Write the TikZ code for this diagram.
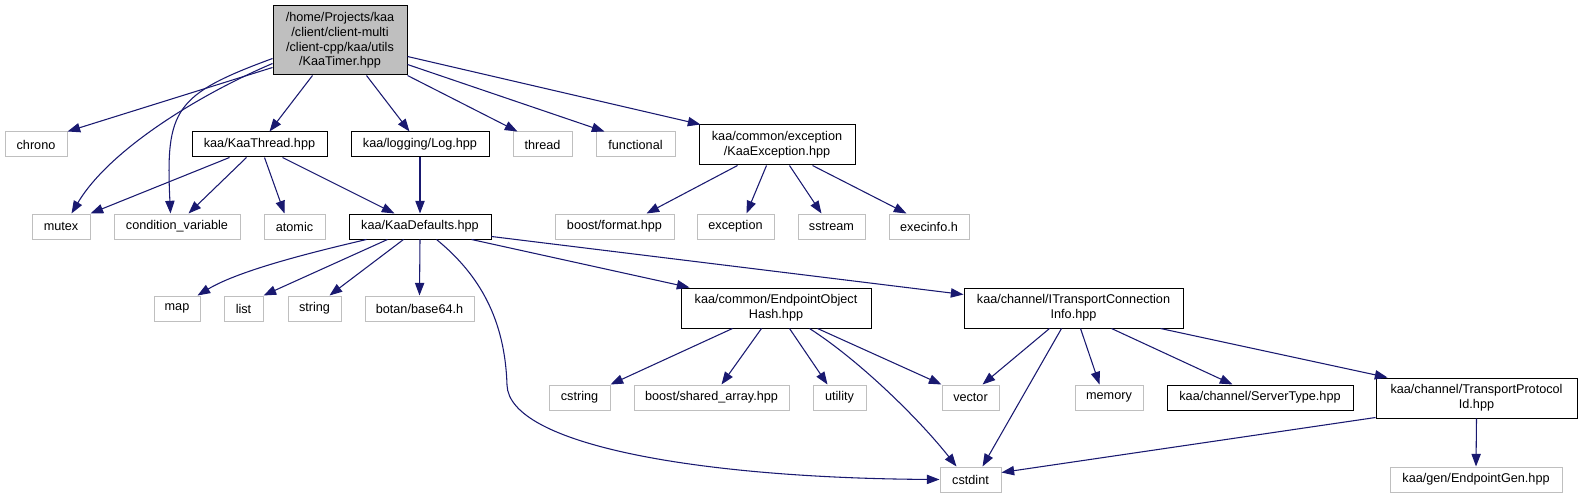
\documentclass[tikz,border=0pt]{standalone}
\usepackage{fontspec}
\setmainfont{Liberation Sans}
\usetikzlibrary{arrows.meta,calc}
\definecolor{edgeblue}{HTML}{191970}
\definecolor{boxgray}{HTML}{BFBFBF}
\begin{document}
\begin{tikzpicture}[x=0.75pt,y=-0.75pt,
  every node/.style={font=\fontsize{9.5pt}{11pt}\selectfont, inner sep=0pt, align=center, fill=white},
  wh/.style 2 args={minimum width=#1*0.75pt, minimum height=#2*0.75pt},
  extnode/.style={draw=boxgray, line width=0.75pt},
  intnode/.style={draw=black, line width=0.75pt},
  rootnode/.style={draw=black, fill=boxgray, line width=0.75pt},
  edge/.style={draw=edgeblue, line width=0.8pt, -{Triangle[length=9.5pt,width=7pt]}, fill=none}
]
\useasboundingbox (0,0) rectangle (1581,499);

% nodes
\node[rootnode, wh={134}{69}] (root) at (340,40.5) {/home/Projects/kaa\\/client/client-multi\\/client-cpp/kaa/utils\\/KaaTimer.hpp};
\node[extnode, wh={62}{25}] (chrono) at (36,144.5) {chrono};
\node[intnode, wh={135}{25}] (kthread) at (259.5,144.5) {kaa/KaaThread.hpp};
\node[intnode, wh={138}{25}] (log) at (420,144.5) {kaa/logging/Log.hpp};
\node[extnode, wh={59}{25}] (thread) at (542.5,144.5) {thread};
\node[extnode, wh={79}{25}] (functional) at (635.5,144.5) {functional};
\node[intnode, wh={156}{40}] (kexc) at (777,145) {kaa/common/exception\\/KaaException.hpp};
\node[extnode, wh={58}{25}] (mutex) at (61,226.5) {mutex};
\node[extnode, wh={126}{25}] (cond) at (177,226.5) {condition\_variable};
\node[extnode, wh={61}{25}] (atomic) at (294.5,226.5) {atomic};
\node[intnode, wh={142}{25}] (kdef) at (420,226.5) {kaa/KaaDefaults.hpp};
\node[extnode, wh={119}{25}] (bformat) at (614.5,226.5) {boost/format.hpp};
\node[extnode, wh={77}{25}] (exception) at (735.5,226.5) {exception};
\node[extnode, wh={67}{25}] (sstream) at (831.5,226.5) {sstream};
\node[extnode, wh={80}{25}] (execinfo) at (929,226.5) {execinfo.h};
\node[extnode, wh={46}{25}] (map) at (177,308.5) {map};
\node[extnode, wh={39}{25}] (list) at (243.5,308.5) {list};
\node[extnode, wh={53}{25}] (string) at (314.5,308.5) {string};
\node[extnode, wh={109}{25}] (botan) at (419.5,308.5) {botan/base64.h};
\node[intnode, wh={190}{40}] (eoh) at (776,308) {kaa/common/EndpointObject\\Hash.hpp};
\node[intnode, wh={219}{40}] (itci) at (1073.5,308) {kaa/channel/ITransportConnection\\Info.hpp};
\node[extnode, wh={61}{25}] (cstring) at (579.5,397.5) {cstring};
\node[extnode, wh={155}{25}] (shared) at (711.5,397.5) {boost/shared\_array.hpp};
\node[extnode, wh={53}{25}] (utility) at (839.5,397.5) {utility};
\node[extnode, wh={57}{25}] (vector) at (970.5,397.5) {vector};
\node[extnode, wh={68}{25}] (memory) at (1109,397.5) {memory};
\node[intnode, wh={186}{25}] (stype) at (1260,397.5) {kaa/channel/ServerType.hpp};
\node[intnode, wh={201}{40}] (tpi) at (1476.5,398) {kaa/channel/TransportProtocol\\Id.hpp};
\node[extnode, wh={61}{25}] (cstdint) at (970.5,479.5) {cstdint};
\node[extnode, wh={172}{25}] (epgen) at (1476,479.5) {kaa/gen/EndpointGen.hpp};

% edges from root
\draw[edge] ($(root.north west)+(0,62)$) -- (chrono.north east);
\draw[edge] ($(root.north west)+(0,58)$) .. controls +(-73,31) and +(38,-64) .. ($(mutex.north west)+(40,0)$);
\draw[edge] ($(root.north west)+(0,53)$) .. controls +(-98,36) and +(-5,-104) .. ($(cond.north west)+(57,0)$);
\draw[edge] ($(root.south west)+(40,0)$) -- ($(kthread.north west)+(78,0)$);
\draw[edge] ($(root.south west)+(94,0)$) -- ($(log.north west)+(59,0)$);
\draw[edge] (root.south east) -- ($(thread.north west)+(5,0)$);
\draw[edge] ($(root.north east)+(0,59)$) -- ($(functional.north west)+(9,0)$);
\draw[edge] ($(root.north east)+(0,51)$) -- ($(kexc.north west)+(2,0)$);

% KaaThread
\draw[edge] ($(kthread.south west)+(38,0)$) -- (mutex.north east);
\draw[edge] ($(kthread.south west)+(55,0)$) -- ($(cond.north west)+(75,0)$);
\draw[edge] ($(kthread.south west)+(73,0)$) -- ($(atomic.north west)+(21,0)$);
\draw[edge] ($(kthread.south west)+(91,0)$) -- ($(kdef.north west)+(46,0)$);

% Log
\draw[edge] (log.south) -- (kdef.north);

% KaaException
\draw[edge] ($(kexc.south west)+(39,0)$) -- ($(bformat.north west)+(92,0)$);
\draw[edge] ($(kexc.south west)+(68,0)$) -- ($(exception.north west)+(50,0)$);
\draw[edge] ($(kexc.south west)+(91,0)$) -- ($(sstream.north west)+(24,0)$);
\draw[edge] ($(kexc.south west)+(114,0)$) -- ($(execinfo.north west)+(18,0)$);

% KaaDefaults
\draw[edge] ($(kdef.south west)+(18,0)$) .. controls +(-47,11) and +(43,-26) .. ($(map.north east)+(-3,0)$);
\draw[edge] ($(kdef.south west)+(39,0)$) -- (list.north east);
\draw[edge] ($(kdef.south west)+(55,0)$) -- ($(string.north west)+(42,0)$);
\draw[edge] (kdef.south) -- (botan.north);
\draw[edge] ($(kdef.south west)+(88,0)$) .. controls (480,275) and (505,320) .. (507,385) .. controls (509,445) and (700,478) .. (cstdint.west);
\draw[edge] ($(kdef.south west)+(123,0)$) -- ($(eoh.north west)+(9,0)$);
\draw[edge] ($(kdef.south east)+(0,-3)$) -- ($(itci.north west)+(0,7)$);

% EndpointObjectHash
\draw[edge] ($(eoh.south west)+(52,0)$) -- (cstring.north east);
\draw[edge] ($(eoh.south west)+(81,0)$) -- ($(shared.north west)+(88,0)$);
\draw[edge] ($(eoh.south west)+(109,0)$) -- ($(utility.north west)+(15,0)$);
\draw[edge] ($(eoh.south west)+(129,0)$) .. controls +(50,32) and +(-37,-47) .. ($(cstdint.north west)+(17,0)$);
\draw[edge] ($(eoh.south west)+(137,0)$) -- (vector.north west);

% ITransportConnectionInfo
\draw[edge] ($(itci.south west)+(86,0)$) -- ($(vector.north west)+(41,0)$);
\draw[edge] ($(itci.south west)+(98,0)$) -- ($(cstdint.north west)+(43,0)$);
\draw[edge] ($(itci.south west)+(117,0)$) -- ($(memory.north west)+(25,0)$);
\draw[edge] ($(itci.south west)+(148,0)$) -- ($(stype.north west)+(66,0)$);
\draw[edge] ($(itci.south west)+(197,0)$) -- ($(tpi.north west)+(12,0)$);

% TransportProtocolId
\draw[edge] ($(tpi.south west)+(0,-1)$) -- ($(cstdint.north east)+(0,6)$);
\draw[edge] (tpi.south) -- (epgen.north);
\end{tikzpicture}
\end{document}
